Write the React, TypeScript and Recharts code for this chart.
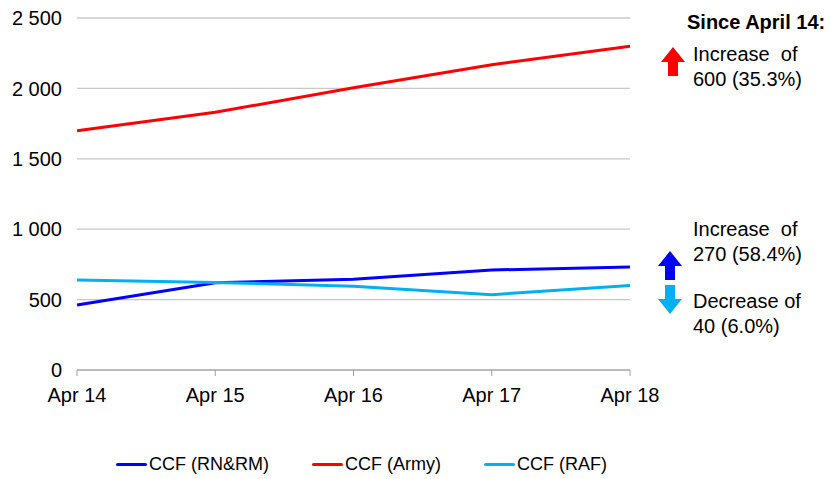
import { LineChart, Line, XAxis, YAxis, CartesianGrid, Legend } from "recharts";

const dates = ["Apr 14", "Apr 15", "Apr 16", "Apr 17", "Apr 18"];
const navy = [462, 620, 645, 710, 732];
const army = [1700, 1830, 2005, 2168, 2300];
const raf = [640, 622, 595, 535, 600];
const yTicks = [0, 500, 1000, 1500, 2000, 2500];

const data = dates.map((date, i) => ({
  date,
  navy: navy[i],
  army: army[i],
  raf: raf[i],
}));

const series = [
  { key: "navy", name: "CCF (RN&RM)", color: "#0000ff" },
  { key: "army", name: "CCF (Army)", color: "#ff0000" },
  { key: "raf", name: "CCF (RAF)", color: "#00b0f0" },
];

const font = "'Liberation Sans', Arial, sans-serif";

const fmt = (v: number) => (v >= 1000 ? `${Math.floor(v / 1000)} ${String(v % 1000).padStart(3, "0")}` : `${v}`);

function ChartLegend() {
  return (
    <div
      style={{
        display: "flex",
        alignItems: "center",
        gap: 43,
        height: 22,
        lineHeight: "22px",
        fontFamily: font,
        fontSize: 18,
        color: "#000",
        paddingLeft: 116,
      }}
    >
      {series.map((s) => (
        <div key={s.key} style={{ display: "flex", alignItems: "center" }}>
          <div style={{ width: 31, height: 3, background: s.color, borderRadius: 2, marginRight: 2 }} />
          <span>{s.name}</span>
        </div>
      ))}
    </div>
  );
}

function Arrow({ x, y, color, down }: { x: number; y: number; color: string; down?: boolean }) {
  const pts = down ? "7,0 17,0 17,14 24,14 12,29 0,14 7,14" : "12,0 24,15 17,15 17,29 7,29 7,15 0,15";
  return (
    <svg width={24} height={29} style={{ position: "absolute", left: x, top: y }}>
      <polygon points={pts} fill={color} />
    </svg>
  );
}

const note: React.CSSProperties = { position: "absolute", fontFamily: font, fontSize: 20, lineHeight: "25px", color: "#000", whiteSpace: "nowrap" };

export default function App() {
  return (
    <div style={{ position: "absolute", top: 0, left: 0, width: 839, height: 479, background: "#fff" }}>
      <LineChart width={839} height={479} data={data} margin={{ top: 18, right: 209, left: 17, bottom: 4 }}>
        <CartesianGrid vertical={false} stroke="#c8c8c8" strokeWidth={1.3} />
        <XAxis
          dataKey="date"
          stroke="#a0a0a0"
          tickSize={6}
          tickMargin={12}
          height={83}
          tick={{ fill: "#000", fontSize: 20, fontFamily: font }}
        />
        <YAxis
          domain={[0, 2500]}
          ticks={yTicks}
          axisLine={false}
          tickLine={false}
          tickSize={0}
          tickMargin={15}
          width={60}
          tickFormatter={fmt}
          tick={{ fill: "#000", fontSize: 20, fontFamily: font }}
        />
        {series.map((s) => (
          <Line
            key={s.key}
            dataKey={s.key}
            name={s.name}
            stroke={s.color}
            strokeWidth={3}
            dot={false}
            isAnimationActive={false}
          />
        ))}
        <Legend
          verticalAlign="bottom"
          wrapperStyle={{ top: 453, bottom: "auto", left: 0, width: 839, height: 22 }}
          content={() => <ChartLegend />}
        />
      </LineChart>
      <div style={{ ...note, left: 687, top: 10, fontWeight: "bold" }}>Since April 14:</div>
      <Arrow x={661} y={47} color="#ff0000" />
      <div style={{ ...note, left: 693, top: 42 }}>
        Increase&nbsp; of
        <br />
        600 (35.3%)
      </div>
      <div style={{ ...note, left: 693, top: 217 }}>
        Increase&nbsp; of
        <br />
        270 (58.4%)
      </div>
      <Arrow x={658} y={251} color="#0000ff" />
      <Arrow x={658} y={285} color="#00b0f0" down />
      <div style={{ ...note, left: 693, top: 289 }}>
        Decrease of
        <br />
        40 (6.0%)
      </div>
    </div>
  );
}
